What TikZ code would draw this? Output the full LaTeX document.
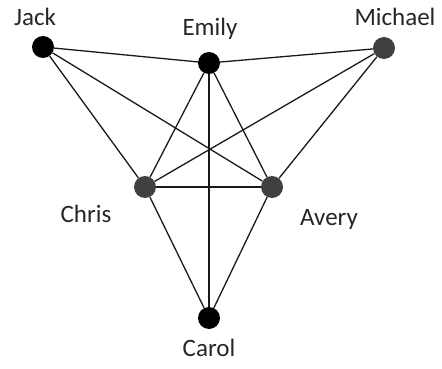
\documentclass[tikz,border=0pt]{standalone}
\usepackage{fontspec}
\setmainfont{Carlito}
\usepackage{tikz}
\usetikzlibrary{positioning}
\definecolor{nodeDark}{HTML}{404040}
\definecolor{textDark}{HTML}{262626}

\begin{document}
\begin{tikzpicture}[
      x=1pt, y=-1pt,
      dotblack/.style={circle, fill=black, inner sep=0pt, minimum size=22pt},
      dotgray/.style={circle, fill=nodeDark, inner sep=0pt, minimum size=22pt},
      personlab/.style={font=\fontsize{25}{30}\selectfont, text=textDark, anchor=base, inner sep=0pt},
      link/.style={line width=1.3pt, draw=black!90}
    ]
      \useasboundingbox (0,0) rectangle (442,369);

      % people
      \node[dotblack] (jack) at (43,47) {};
      \node[dotblack] (emily) at (209,63) {};
      \node[dotgray] (michael) at (384,48) {};
      \node[dotgray] (chris) at (145,187) {};
      \node[dotgray] (avery) at (272,187) {};
      \node[dotblack] (carol) at (209,318) {};

      % names
      \node[personlab] (jacklab) at (35,26) {Jack};
      \node[personlab] (emilylab) at (210,36) {Emily};
      \node[personlab] (michaellab) at (395,26) {Michael};
      \node[personlab] (chrislab) at (86,222) {Chris};
      \node[personlab] (averylab) at (329,225) {Avery};
      \node[personlab] (carollab) at (209,356) {Carol};

      % links
      \foreach \a/\b in {jack/emily,emily/michael,jack/chris,jack/avery,
                         michael/chris,michael/avery,emily/chris,emily/avery,
                         emily/carol,chris/avery,chris/carol,avery/carol} {
        \draw[link] (\a) -- (\b);
      }
    \end{tikzpicture}
\end{document}
